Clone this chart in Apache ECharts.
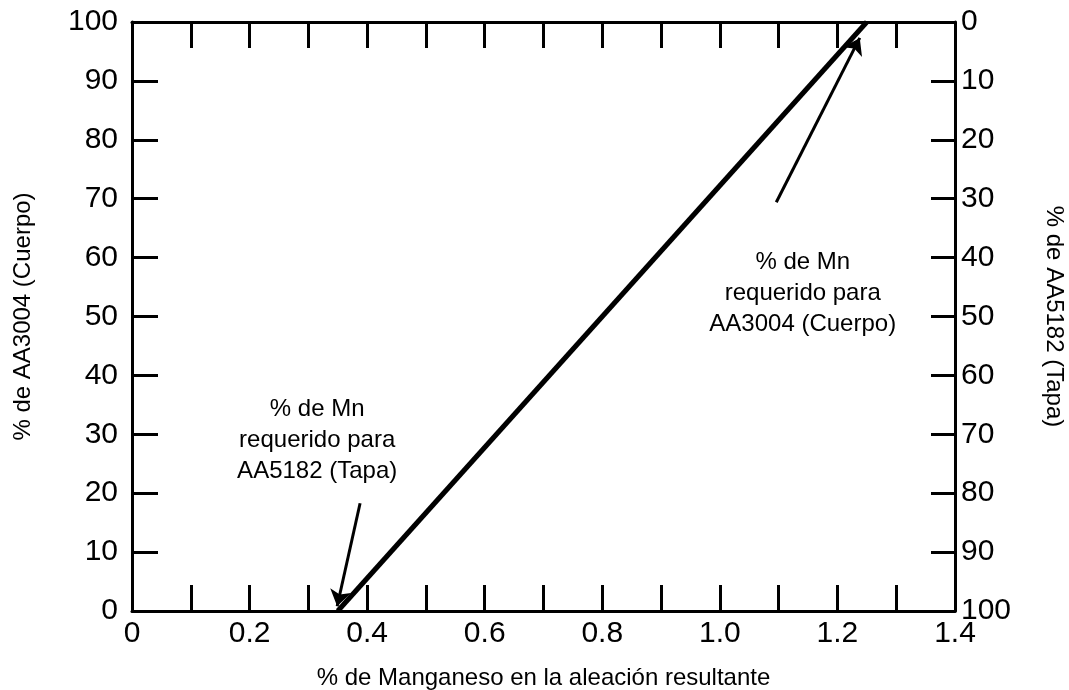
<!DOCTYPE html>
<html>
<head>
<meta charset="utf-8">
<script src="https://cdn.jsdelivr.net/npm/echarts@6/dist/echarts.min.js"></script>
<style>
html,body{margin:0;padding:0;background:#fff;}
#c{width:1069px;height:690px;}
</style>
</head>
<body>
<div id="c"></div>
<script>
// ---- data ----
const xTitle = '% de Manganeso en la aleación resultante';
const yLeftTitle = '% de AA3004 (Cuerpo)';
const yRightTitle = '% de AA5182 (Tapa)';
const mixLine = [[0.35, 0], [1.25, 100]];           // % Mn vs % AA3004
const arrowTapa = [[0.388, 18.3], [0.349, 0.8]];     // arrow tail -> head
const arrowCuerpo = [[1.096, 69.4], [1.238, 97.3]];
const noteTapa = ['% de Mn', 'requerido para', 'AA5182 (Tapa)'];
const noteCuerpo = ['% de Mn', 'requerido para', 'AA3004 (Cuerpo)'];
const noteTapaAt = [0.315, 28.9];
const noteCuerpoAt = [1.141, 54.0];

const FONT = 'Liberation Sans, Arial, sans-serif';
const chart = echarts.init(document.getElementById('c'), null, {renderer: 'canvas'});
const tickStyle = {show: true, inside: true, length: 26, lineStyle: {color: '#000', width: 3}};
const axisLine = {show: true, onZero: false, lineStyle: {color: '#000', width: 3}};
const titleStyle = {color: '#000', fontSize: 24, fontFamily: FONT};

chart.setOption({
  animation: false,
  grid: {left: 132, right: 114, top: 22, bottom: 79, outerBoundsMode: 'none', containLabel: false},
  xAxis: [{
    type: 'value', min: 0, max: 1.4, interval: 0.1, position: 'bottom',
    axisLine: axisLine, axisTick: tickStyle, splitLine: {show: false},
    axisLabel: {
      color: '#000', fontSize: 30, fontFamily: FONT, margin: 8,
      formatter: v => {
        const r = Math.round(v * 10);
        if (r % 2 !== 0) return '';
        if (r === 0) return '0';
        return (r / 10).toFixed(1);
      }
    },
    name: xTitle, nameLocation: 'middle', nameGap: 55,
    nameTextStyle: titleStyle
  }, {
    type: 'value', min: 0, max: 1.4, interval: 0.1, position: 'top',
    axisLine: axisLine, axisTick: tickStyle, axisLabel: {show: false}, splitLine: {show: false}
  }],
  yAxis: [{
    type: 'value', min: 0, max: 100, interval: 10, position: 'left',
    axisLine: axisLine, axisTick: tickStyle, splitLine: {show: false},
    axisLabel: {color: '#000', fontSize: 30, fontFamily: FONT, margin: 14},
    name: yLeftTitle, nameLocation: 'middle', nameGap: 97, nameRotate: 90,
    nameTextStyle: titleStyle
  }, {
    type: 'value', min: 0, max: 100, interval: 10, position: 'right', inverse: true,
    axisLine: axisLine, axisTick: {show: true, inside: true, length: 24, lineStyle: {color: '#000', width: 3}},
    splitLine: {show: false},
    axisLabel: {color: '#000', fontSize: 30, fontFamily: FONT, margin: 6},
    name: yRightTitle, nameLocation: 'middle', nameGap: 87, nameRotate: -90,
    nameTextStyle: titleStyle
  }],
  series: [{
    type: 'line', data: mixLine, symbol: 'none', xAxisIndex: 0, yAxisIndex: 0,
    lineStyle: {color: '#000', width: 5}, z: 5
  }, {
    type: 'lines', coordinateSystem: 'cartesian2d', xAxisIndex: 0, yAxisIndex: 0,
    symbol: ['none', 'arrow'], symbolSize: [10, 16],
    lineStyle: {color: '#000', width: 3, opacity: 1},
    data: [{coords: arrowTapa}, {coords: arrowCuerpo}], z: 6
  }]
});

function noteText(lines, at) {
  const p = chart.convertToPixel({xAxisIndex: 0, yAxisIndex: 0}, at);
  return {
    type: 'text', x: p[0], y: p[1], z: 10, silent: true,
    style: {
      text: lines.join('\n'), fill: '#000', font: '24px ' + FONT,
      lineHeight: 31, align: 'center', verticalAlign: 'middle'
    }
  };
}
chart.setOption({graphic: [noteText(noteTapa, noteTapaAt), noteText(noteCuerpo, noteCuerpoAt)]});
</script>
</body>
</html>
